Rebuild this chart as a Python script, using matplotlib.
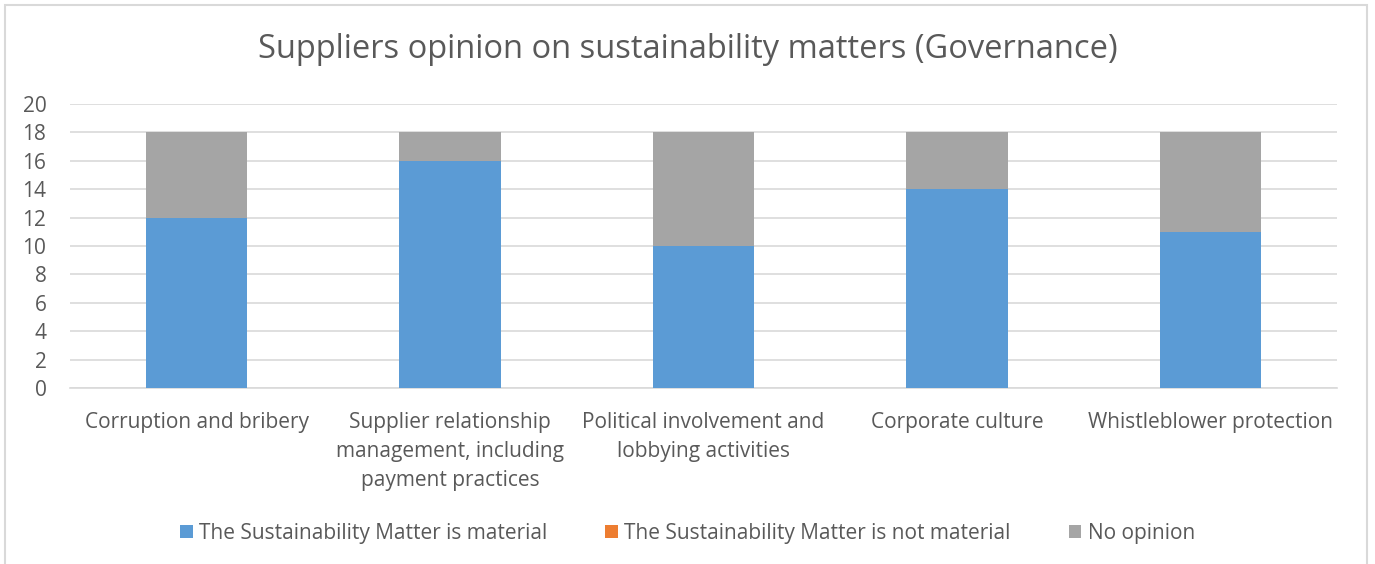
import numpy as np
import matplotlib.pyplot as plt
from matplotlib.patches import Rectangle

plt.rcParams['font.family'] = ['Open Sans', 'DejaVu Sans']

categories = [
    "Corruption and bribery",
    "Supplier relationship\nmanagement, including\npayment practices",
    "Political involvement and\nlobbying activities",
    "Corporate culture",
    "Whistleblower protection",
]
material = [12, 16, 10, 14, 11]
not_material = [0, 0, 0, 0, 0]
no_opinion = [6, 2, 8, 4, 7]

series_names = [
    "The Sustainability Matter is material",
    "The Sustainability Matter is not material",
    "No opinion",
]
colors = ["#5B9BD5", "#ED7D31", "#A5A5A5"]
text_color = "#595959"

fig = plt.figure(figsize=(13.75, 5.64), dpi=100)
ax = fig.add_axes([0.0509, 0.312, 0.9215, 0.5036])

# outer chart frame
fig.patches.append(Rectangle((5 / 1375, -0.1), 1362 / 1375, 1 - 5 / 564 + 0.1,
                             transform=fig.transFigure, fill=False,
                             edgecolor="#D9D9D9", linewidth=1.5))

x = np.arange(len(categories))
w = 0.4
bottom = np.zeros(len(categories))
for vals, name, c in zip([material, not_material, no_opinion], series_names, colors):
    ax.bar(x, vals, w, bottom=bottom, color=c, label=name, zorder=3)
    bottom += np.array(vals)

ax.set_xlim(-0.5, len(categories) - 0.5)
ax.set_ylim(0, 20)
ax.set_yticks(range(0, 21, 2))
ax.grid(axis="y", color="#D9D9D9", linewidth=1.2, zorder=0)
for s in ["top", "right", "left"]:
    ax.spines[s].set_visible(False)
ax.spines["bottom"].set_color("#D9D9D9")
ax.spines["bottom"].set_linewidth(1.2)
ax.tick_params(length=0, colors=text_color, labelsize=15)
ax.tick_params(axis="x", pad=17)
ax.tick_params(axis="y", pad=17)
ax.set_xticks(x)
ax.set_xticklabels(categories, linespacing=1.5)

fig.text(0.5, 1 - 50 / 564, "Suppliers opinion on sustainability matters (Governance)",
         ha="center", va="center", fontsize=23.5, color=text_color)

fig.legend(loc="center", bbox_to_anchor=(0.5, 1 - 533 / 564), ncol=3, frameon=False,
           fontsize=15, labelcolor=text_color, handlelength=0.6, handleheight=0.6,
           handletextpad=0.3, columnspacing=2.8)

fig.savefig("out.png", dpi=100)
